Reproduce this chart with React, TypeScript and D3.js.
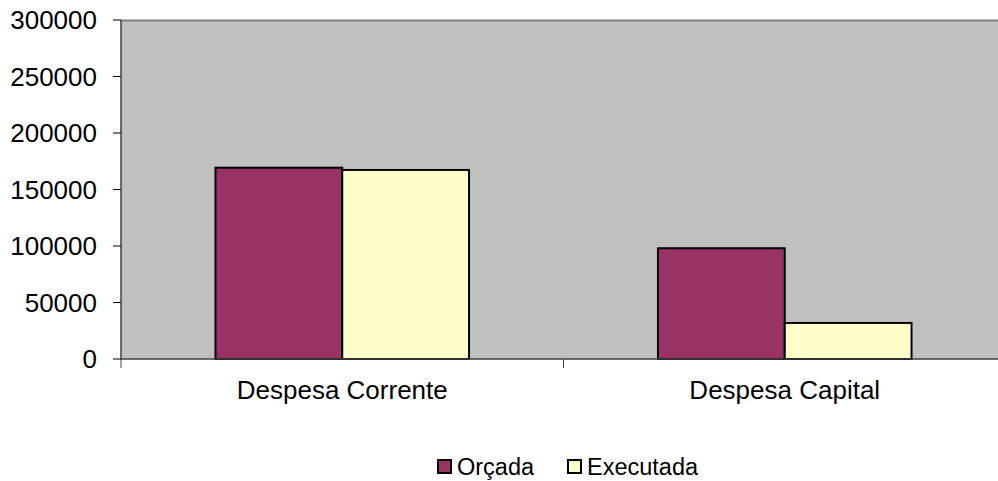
import React, { useEffect, useRef } from 'react';
import * as d3 from 'd3';

const categories: string[] = ["Despesa Corrente", "Despesa Capital"];
const seriesNames: string[] = ["Orçada", "Executada"];
const orcada: number[] = [169300, 98000];
const executada: number[] = [167300, 31900];
const yTicks: number[] = [0, 50000, 100000, 150000, 200000, 250000, 300000];
const colors: string[] = ["#993366", "#FFFFCC"];

const W = 998;
const H = 481;

export default function App() {
  const ref = useRef<SVGSVGElement>(null);

  useEffect(() => {
    const svg = d3.select(ref.current);
    svg.selectAll("*").remove();

    const left = 121, top = 20, bottom = 359, right = 1006;
    const font = "Liberation Sans, Arial, sans-serif";

    let y = d3.scaleLinear().domain([0, 300000]).range([bottom, top]);
    let x0 = d3.scaleBand<string>().domain(categories).range([left, right]).padding(0);
    let x1 = d3.scaleBand<string>()
      .domain(seriesNames)
      .range([0, x0.bandwidth()])
      .paddingOuter(0.745)
      .paddingInner(0);

    // plot area
    svg.append("rect")
      .attr("x", left).attr("y", top)
      .attr("width", right - left).attr("height", bottom - top)
      .attr("fill", "#C0C0C0");
    svg.append("line")
      .attr("x1", left).attr("x2", W).attr("y1", top + 0.5).attr("y2", top + 0.5)
      .attr("stroke", "#808080").attr("stroke-width", 2);

    const rows = categories.map((c, i) => ({ cat: c, vals: [orcada[i], executada[i]] }));

    const g = svg.selectAll("g.grp")
      .data(rows)
      .join("g")
      .attr("transform", d => `translate(${x0(d.cat)},0)`);

    g.selectAll("rect")
      .data(d => d.vals.map((v, j) => ({ name: seriesNames[j], v, j })))
      .join("rect")
      .attr("x", d => x1(d.name)!)
      .attr("y", d => y(d.v))
      .attr("width", x1.bandwidth())
      .attr("height", d => bottom - y(d.v))
      .attr("fill", d => colors[d.j])
      .attr("stroke", "#000")
      .attr("stroke-width", 2);

    // y axis
    svg.append("line")
      .attr("x1", left).attr("x2", left).attr("y1", top).attr("y2", bottom + 1)
      .attr("stroke", "#404040").attr("stroke-width", 1.5);
    svg.selectAll("line.ytick")
      .data(yTicks)
      .join("line")
      .attr("x1", 113).attr("x2", left)
      .attr("y1", d => y(d)).attr("y2", d => y(d))
      .attr("stroke", "#000");
    svg.selectAll("text.ylab")
      .data(yTicks)
      .join("text")
      .attr("x", 97)
      .attr("y", d => y(d))
      .attr("dy", "0.35em")
      .attr("text-anchor", "end")
      .attr("font-family", font)
      .attr("font-size", 26)
      .text(d => d);

    // x axis
    svg.append("line")
      .attr("x1", left).attr("x2", W).attr("y1", bottom).attr("y2", bottom)
      .attr("stroke", "#404040").attr("stroke-width", 1.5);
    svg.selectAll("line.xtick")
      .data(categories)
      .join("line")
      .attr("x1", d => x0(d)!).attr("x2", d => x0(d)!)
      .attr("y1", bottom).attr("y2", bottom + 9)
      .attr("stroke", "#404040");
    svg.selectAll("text.xlab")
      .data(categories)
      .join("text")
      .attr("x", d => x0(d)! + x0.bandwidth() / 2)
      .attr("y", 399)
      .attr("text-anchor", "middle")
      .attr("font-family", font)
      .attr("font-size", 26)
      .text(d => d);

    // legend
    const legX = [438, 568];
    seriesNames.forEach((s, i) => {
      svg.append("rect")
        .attr("x", legX[i]).attr("y", 460)
        .attr("width", 13).attr("height", 13)
        .attr("fill", colors[i]).attr("stroke", "#000").attr("stroke-width", 2);
      svg.append("text")
        .attr("x", legX[i] + 19).attr("y", 475)
        .attr("font-family", font)
        .attr("font-size", 23.5)
        .text(s);
    });
  }, []);

  return (
    <svg ref={ref} width={W} height={H}
      style={{ position: "absolute", left: 0, top: 0, background: "#fff" }} />
  );
}
